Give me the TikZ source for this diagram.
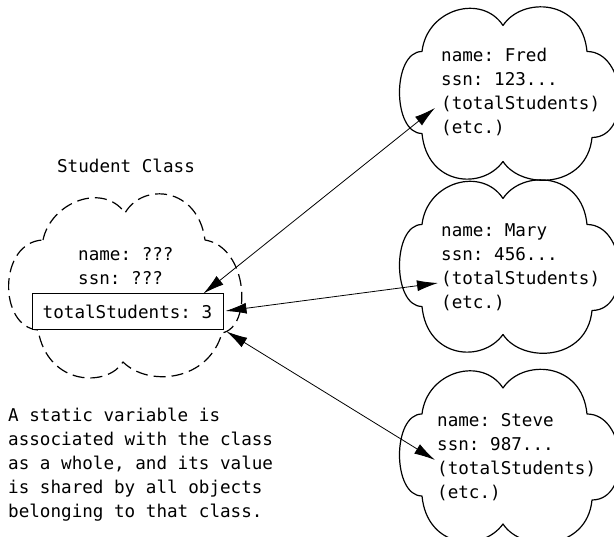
\documentclass[tikz,border=0pt]{standalone}
\usepackage{fontspec}
\setmonofont{DejaVu Sans Mono}
\usetikzlibrary{arrows.meta}
\begin{document}
\begin{tikzpicture}[x=1pt,y=1pt,
  txt/.style={font=\ttfamily\fontsize{17.6}{24}\selectfont, align=left, inner sep=0pt, anchor=base west},
  dbl/.style={{Latex[length=21pt,width=11pt]}-{Latex[length=21pt,width=11pt]}, line width=0.8pt},
  cloudline/.style={line width=1.2pt, line join=round},
  varbox/.style={draw, line width=1pt, fill=white, minimum width=191pt, minimum height=36pt, inner sep=0pt,
    font=\ttfamily\fontsize{17.6}{24}\selectfont},
  objcloud/.pic={
    \draw[cloudline] (-85,42) .. controls (-80,85) and (-25,100) .. (-4,68)
      .. controls (15,97) and (75,95) .. (80,42)
      .. controls (120,42) and (125,-44) .. (85,-44)
      .. controls (80,-95) and (15,-97) .. (-4,-68)
      .. controls (-25,-97) and (-80,-92) .. (-85,-40)
      .. controls (-115,-40) and (-115,42) .. cycle;
  }
]
\useasboundingbox (0,0) rectangle (614,537);

% object clouds
\pic at (507,443.5) {objcloud};
\pic at (507,270.5) {objcloud};
\pic at (507,81) {objcloud};

% (multi-line nodes: base anchor = last line)
\node[txt] (fred) at (441,403) {name: Fred\\ssn: 123...\\(totalStudents)\\(etc.)};
\node[txt] (mary) at (441,228) {name: Mary\\ssn: 456...\\(totalStudents)\\(etc.)};
\node[txt] (steve) at (437,38) {name: Steve\\ssn: 987...\\(totalStudents)\\(etc.)};

% class cloud
\begin{scope}[shift={(123,250)}]
\draw[cloudline, dash pattern=on 12pt off 6pt] (-80,47) .. controls (-72,85) and (-20,105) .. (2,74)
  .. controls (20,105) and (75,100) .. (82,47)
  .. controls (125,40) and (130,-40) .. (99,-46)
  .. controls (85,-95) and (25,-100) .. (0,-75)
  .. controls (-15,-100) and (-75,-100) .. (-85,-43)
  .. controls (-125,-40) and (-125,45) .. cycle;
\end{scope}

\node[txt, anchor=base] (title) at (126,364) {Student Class};
\node[txt] (fields) at (78,252) {name: ???\\ssn: ???};
\node[varbox] (ts) at (127.5,225) {totalStudents: 3};

\node[txt] (note) at (8,19) {A static variable is\\associated with the class\\as a whole, and its value\\is shared by all objects\\belonging to that class.};

\coordinate (fredin) at (435,429);
\coordinate (maryin) at (438,254);
\coordinate (stevein) at (435,77);

\draw[dbl] ([xshift=-20pt]ts.north east) -- (fredin);
\draw[dbl] ([xshift=2pt,yshift=1pt]ts.east) -- (maryin);
\draw[dbl] ([xshift=3pt,yshift=-1pt]ts.south east) -- (stevein);
\end{tikzpicture}
\end{document}
